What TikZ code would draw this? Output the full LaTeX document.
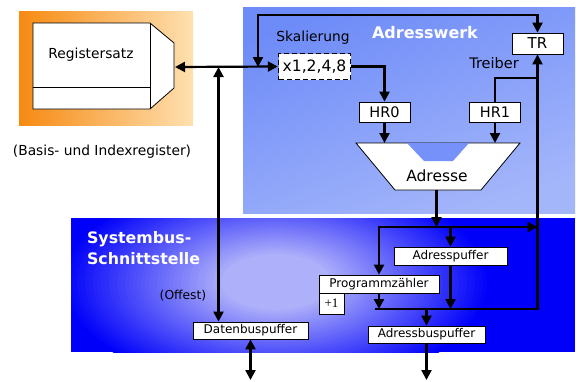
\documentclass[tikz,border=0pt]{standalone}
\usepackage{fontspec}
\setmainfont{DejaVu Sans}
\newfontfamily\plusfont{Liberation Serif}
\usetikzlibrary{arrows.meta}
\definecolor{regorange}{RGB}{246,138,18}
\definecolor{regmid}{RGB}{252,204,146}
\definecolor{regpeach}{RGB}{254,224,176}
\definecolor{awtop}{RGB}{110,140,248}
\definecolor{awbot}{RGB}{164,182,250}
\definecolor{awnotch}{RGB}{118,146,250}
\definecolor{sbblue}{RGB}{0,0,250}
\definecolor{sblight}{RGB}{174,176,250}

\begin{document}
\begin{tikzpicture}[x=1pt,y=-1pt,line width=2.2pt,>={Triangle[length=10pt,width=10pt]},
  box/.style={draw,fill=white,line width=0.8pt,inner sep=0pt,font=\fontsize{12}{14}\selectfont},
  hrbox/.style={box,minimum width=51pt,minimum height=20pt,font=\fontsize{14.5}{16}\selectfont},
  lbl/.style={font=\fontsize{13.8}{16}\selectfont}]
  \useasboundingbox (0,0) rectangle (576,381);
  % backgrounds
  \shade[left color=regorange,middle color=regmid,right color=regpeach] (19,11) rectangle (193,125);
  \shade[top color=awtop,bottom color=awbot,shading angle=20] (243,7) rectangle (575,213);
  \begin{scope}
    \clip (71,218) rectangle (575,352);
    \fill[sbblue] (71,218) rectangle (575,352);
    \foreach \i in {0,...,40} {
      \pgfmathtruncatemacro\mix{100*\i/40}
      \fill[sblight!\mix!sbblue] (276,282) ellipse [x radius={215-160*\i/40}, y radius={108-80*\i/40}];
    }
  \end{scope}
  % register file
  \draw[fill=white,line width=0.8pt] (33,23) -- (150,23) -- (174,43) -- (174,88) -- (150,109) -- (33,109) -- cycle;
  \draw[line width=0.8pt] (150,23) -- (150,109) (33,87) -- (150,87);
  \node[lbl] (regs) at (91,55) {Registersatz};
  \node[lbl] (regnote) at (102,152) {(Basis- und Indexregister)};
  \coordinate (regport) at (175,67);
  % address unit
  \node[box,line width=1.4pt,dash pattern=on 5pt off 3pt,minimum width=72pt,minimum height=26pt,
        font=\fontsize{15.6}{17}\selectfont] (skal) at (314.5,66.5) {x1,2,4,8};
  \node[lbl] (skallbl) at (313,38) {Skalierung};
  \node[text=white,font=\bfseries\fontsize{16}{18}\selectfont] (aw) at (425,33) {Adresswerk};
  \node[lbl,font=\fontsize{14.5}{16}\selectfont] (treiber) at (494,63) {Treiber};
  \node[hrbox,minimum height=21pt,font=\fontsize{15}{17}\selectfont] (tr) at (537.5,43.5) {TR};
  \node[hrbox] (hr0) at (384.5,112) {HR0};
  \node[hrbox] (hr1) at (495,112) {HR1};
  \draw[fill=white,line width=0.8pt] (356,143) -- (520,143) -- (481,190) -- (395,190) -- cycle;
  \fill[awnotch] (407,143) -- (469,143) -- (453,161) -- (424,161) -- cycle;
  \node[font=\fontsize{15.5}{17}\selectfont] (adr) at (437,176) {Adresse};
  \coordinate (alutop) at (436,143);
  \coordinate (aluout) at (436.5,190);
  % bus interface
  \node[text=white,font=\bfseries\fontsize{15.8}{18}\selectfont,anchor=base west,inner sep=0pt] (sb1) at (86,243) {Systembus-};
  \node[text=white,font=\bfseries\fontsize{15.8}{18}\selectfont,anchor=base west,inner sep=0pt] (sb2) at (86,264) {Schnittstelle};
  \node[font=\fontsize{12.3}{14}\selectfont] (offs) at (183,296) {(Offest)};
  \node[box,minimum width=115pt,minimum height=17pt] (dbp) at (250.5,330.5) {Datenbuspuffer};
  \node[box,minimum width=113pt,minimum height=18pt] (ap) at (450.5,256) {Adresspuffer};
  \node[box,minimum width=120pt,minimum height=18pt] (pz) at (379,284) {Programmzähler};
  \node[box,minimum width=25pt,minimum height=21pt,font=\plusfont\fontsize{13}{15}\selectfont] (plus) at (331.5,303.5) {+1};
  \node[box,minimum width=117pt,minimum height=17pt] (abp) at (426.5,334.5) {Adressbuspuffer};
  % connectors
  \coordinate (jd) at (218.5,67);
  \coordinate (jl) at (258,67);
  \coordinate (loop) at (258,15);
  \coordinate (jt) at (537.5,78);
  \coordinate (bus1) at (379,227);
  \coordinate (bus2) at (375,309);
  \coordinate (dbus) at (250.5,380);
  \coordinate (abus) at (426.5,380);
  \draw[<->] (regport) -- (skal.west);
  \draw[<->] (jd) -- (jd |- dbp.north);
  \draw[<->] (jl) -- (loop) -| (tr.north);
  \draw[->] (skal.east) -| (hr0.north);
  \draw[->] (hr0.south) -- (hr0.south |- alutop);
  \draw[->] (hr1.south) -- (hr1.south |- alutop);
  \draw (hr1.north) |- (jt);
  \draw[->] (bus2) -| (tr.south);
  \draw[->] (aluout) -- (aluout |- bus1);
  \draw[<->] (pz.north) |- (tr.south |- bus1);
  \draw[->] (ap.north |- bus1) -- (ap.north);
  \draw[->] (ap.south) -- (ap.south |- bus2);
  \draw[->] (pz.south) -- (pz.south |- bus2);
  \draw[->] (abp.north |- bus2) -- (abp.north);
  \draw[->] (abp.south) -- (abus);
  \draw[<->] (dbp.south) -- (dbus);
\end{tikzpicture}
\end{document}
